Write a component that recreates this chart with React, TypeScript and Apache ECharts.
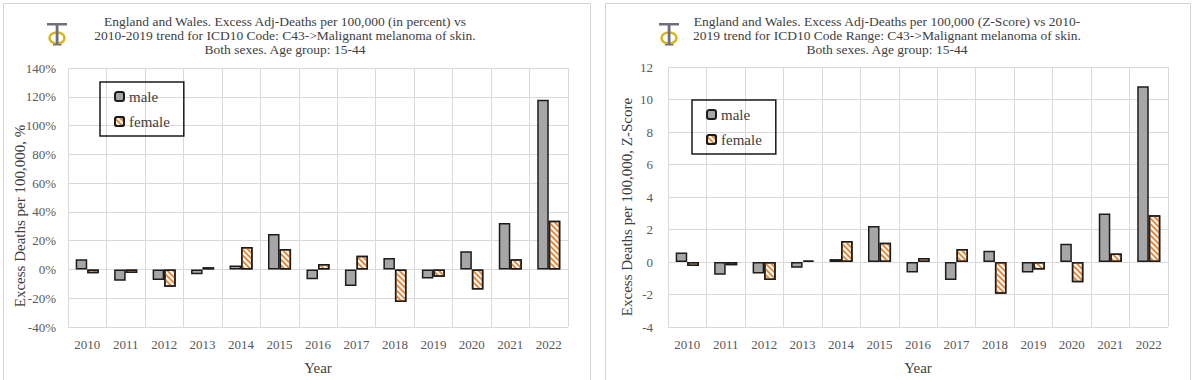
import React, { useEffect, useRef } from "react";
import * as echarts from "echarts";

const years = ["2010","2011","2012","2013","2014","2015","2016","2017","2018","2019","2020","2021","2022"];
const malePct = [7, -7.9, -7.4, -3.4, 2.7, 24.6, -6.8, -11.5, 7.9, -6.3, 12.6, 32.3, 118];
const femalePct = [-2.7, -2.5, -12, 1.5, 15.6, 14.2, 3.8, 9.5, -22.6, -5, -14, 7, 33.9];
const maleZ = [0.58, -0.78, -0.7, -0.36, 0.18, 2.22, -0.64, -1.1, 0.7, -0.64, 1.12, 2.98, 10.82];
const femaleZ = [-0.24, -0.2, -1.1, 0.08, 1.3, 1.18, 0.24, 0.8, -1.96, -0.46, -1.24, 0.52, 2.88];

const leftTitle = [
  "England and Wales. Excess Adj-Deaths per 100,000 (in percent) vs",
  "2010-2019 trend for ICD10 Code: C43->Malignant melanoma of skin.",
  "Both sexes. Age group: 15-44",
];
const rightTitle = [
  "England and Wales. Excess Adj-Deaths per 100,000 (Z-Score) vs 2010-",
  "2019 trend for ICD10 Code Range: C43->Malignant melanoma of skin.",
  "Both sexes. Age group: 15-44",
];

const SERIF = "Liberation Serif";
const MALE_COLOR = "#a6a6a6";
const STRIPE = "#e8893a";
const BORDER = "#1c1c1c";

function logo(x: number, y: number): any[] {
  return [
    { type: "ellipse", shape: { cx: x + 10, cy: y + 15, rx: 7.5, ry: 5.5 }, style: { fill: "none", stroke: "#d9b51c", lineWidth: 2.5 }, z: 10 },
    { type: "rect", shape: { x: x, y: y, width: 20, height: 2.5 }, style: { fill: "#6e6e7e" }, z: 11 },
    { type: "rect", shape: { x: x + 8.7, y: y, width: 2.8, height: 22 }, style: { fill: "#6e6e7e" }, z: 11 },
    { type: "rect", shape: { x: x + 6, y: y + 21, width: 8.5, height: 1.5 }, style: { fill: "#6e6e7e" }, z: 11 },
  ];
}

function titleTexts(lines: string[], cx: number): any[] {
  return lines.map((t, i) => ({
    type: "text",
    x: cx,
    y: 21 + i * 14,
    style: { text: t, fontFamily: SERIF, fontSize: 13.5, fill: "#404040", textAlign: "center", textVerticalAlign: "middle" },
    z: 10,
  }));
}

export default function App() {
  const ref = useRef<HTMLDivElement>(null);
  useEffect(() => {
    if (!ref.current) return;
    const chart = echarts.init(ref.current, undefined, { renderer: "svg" });
    const femaleStyle = {
      color: "#ffffff",
      borderColor: BORDER,
      borderWidth: 1.5,
      decal: {
        symbol: "rect",
        symbolSize: 1,
        color: STRIPE,
        dashArrayX: [1, 0],
        dashArrayY: [2, 2],
        rotation: Math.PI / 4,
      },
    };
    const maleStyle = { color: MALE_COLOR, borderColor: BORDER, borderWidth: 1.5 };
    const axisLabelStyle = { fontFamily: SERIF, fontSize: 13, color: "#595959" };
    const gridLine = { show: true, lineStyle: { color: "#d9d9d9", width: 1 } };
    const xAxisBase = (gi: number) => ({
      type: "category",
      gridIndex: gi,
      data: years,
      axisLine: { show: false, onZero: false },
      axisTick: { show: false },
      splitLine: gridLine,
      axisLabel: { ...axisLabelStyle, margin: 11 },
      name: "Year",
      nameLocation: "middle",
      nameGap: 33,
      nameTextStyle: { fontFamily: SERIF, fontSize: 15, color: "#404040" },
    });
    const legendBase = (left: number, top: number, w: number) => ({
      left,
      top,
      width: w,
      orient: "vertical",
      data: ["male", "female"],
      borderColor: "#1a1a1a",
      borderWidth: 1.5,
      padding: [7, 14, 7, 14],
      itemGap: 10,
      itemWidth: 9,
      itemHeight: 9,
      textStyle: { fontFamily: SERIF, fontSize: 15, color: "#404040" },
      selectedMode: false,
    });
    const option: any = {
      animation: false,
      backgroundColor: "#ffffff",
      grid: [
        { left: 68, width: 500, top: 68, height: 266 },
        { left: 668, width: 500, top: 67, height: 267 },
      ],
      legend: [legendBase(100, 82, 80), legendBase(692, 100, 81)],
      xAxis: [xAxisBase(0), xAxisBase(1)],
      yAxis: [
        {
          type: "value",
          gridIndex: 0,
          min: -40,
          max: 140,
          interval: 20,
          axisLine: { show: false },
          axisTick: { show: false },
          splitLine: gridLine,
          axisLabel: { ...axisLabelStyle, margin: 12, formatter: "{value}%" },
        },
        {
          type: "value",
          gridIndex: 1,
          min: -4,
          max: 12,
          interval: 2,
          axisLine: { show: false },
          axisTick: { show: false },
          splitLine: gridLine,
          axisLabel: { ...axisLabelStyle, margin: 15 },
        },
      ],
      series: [
        { name: "male", type: "bar", xAxisIndex: 0, yAxisIndex: 0, data: malePct, itemStyle: maleStyle, barGap: "0%", barCategoryGap: "40%" },
        { name: "female", type: "bar", xAxisIndex: 0, yAxisIndex: 0, data: femalePct, itemStyle: femaleStyle, barGap: "0%", barCategoryGap: "40%" },
        { name: "male", type: "bar", xAxisIndex: 1, yAxisIndex: 1, data: maleZ, itemStyle: maleStyle, barGap: "0%", barCategoryGap: "40%" },
        { name: "female", type: "bar", xAxisIndex: 1, yAxisIndex: 1, data: femaleZ, itemStyle: femaleStyle, barGap: "0%", barCategoryGap: "40%" },
      ],
      graphic: [
        { type: "rect", shape: { x: 3.5, y: 3.5, width: 587, height: 390 }, style: { fill: "none", stroke: "#d4d4d4", lineWidth: 1 }, z: 0 },
        { type: "rect", shape: { x: 605.5, y: 3.5, width: 585, height: 390 }, style: { fill: "none", stroke: "#d4d4d4", lineWidth: 1 }, z: 0 },
        ...logo(47, 23),
        ...logo(659, 23),
        ...titleTexts(leftTitle, 285),
        ...titleTexts(rightTitle, 887),
        {
          type: "text",
          x: 20,
          y: 216,
          rotation: Math.PI / 2,
          style: { text: "Excess Deaths per 100,000, %", fontFamily: SERIF, fontSize: 15, fill: "#404040", textAlign: "center", textVerticalAlign: "middle" },
          z: 10,
        },
        {
          type: "text",
          x: 627,
          y: 207,
          rotation: Math.PI / 2,
          style: { text: "Excess Deaths per 100,000, Z-Score", fontFamily: SERIF, fontSize: 15, fill: "#404040", textAlign: "center", textVerticalAlign: "middle" },
          z: 10,
        },
      ],
    };
    chart.setOption(option);
    return () => chart.dispose();
  }, []);
  return <div ref={ref} style={{ position: "absolute", left: 0, top: 0, width: 1199, height: 380 }} />;
}
